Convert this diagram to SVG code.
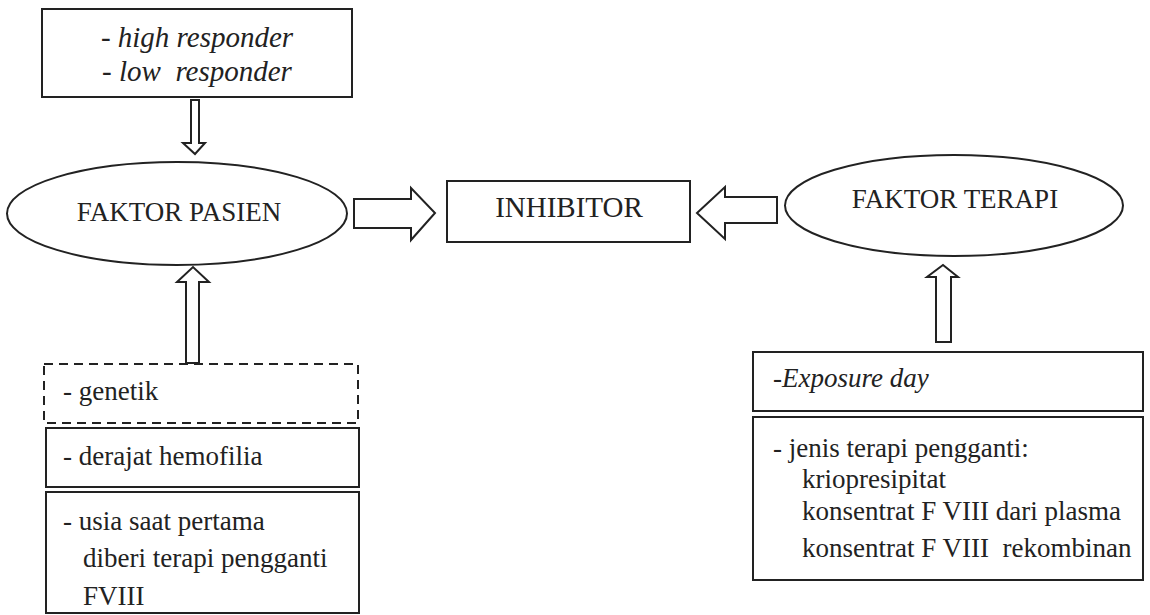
<svg xmlns="http://www.w3.org/2000/svg" width="1150" height="615" viewBox="0 0 1150 615">
<style>
.box{fill:#fff;stroke:#222;stroke-width:2}
.dash{fill:#fff;stroke:#222;stroke-width:2;stroke-dasharray:9,6}
.arr{fill:#fff;stroke:#222;stroke-width:2;stroke-linejoin:miter}
text{fill:#222;font-size:27px}
.it{font-style:italic}
.c{text-anchor:middle}
</style>
<rect width="1150" height="615" fill="#fff"/>
<g id="connectors">
<path class="arr" d="M191,100 L199,100 L199,143 L205,143 L195,154 L183,143 L191,143 Z"/>
<path class="arr" d="M354,199 L411,199 L411,188 L435,213 L411,240 L411,228 L354,228 Z"/>
<path class="arr" d="M777,197 L725,197 L725,187 L697,213 L725,239 L725,223 L777,223 Z"/>
<path class="arr" d="M186,363 L186,282 L177,282 L193,267 L209,282 L199,282 L199,363 Z"/>
<path class="arr" d="M936,342 L936,277 L927,277 L943,265 L958,277 L951,277 L951,342 Z"/>
</g>
<g font-family="Liberation Serif, Tinos, Times New Roman, DejaVu Serif, serif">
<g id="responder">
<rect class="box" x="42" y="9" width="310" height="88"/>
<text class="it c" x="197" y="47" style="font-size:29px">- high responder</text>
<text class="it c" x="197" y="81" style="font-size:29px" xml:space="preserve">- low  responder</text>
</g>
<g id="faktor-pasien">
<ellipse class="box" cx="177" cy="213.5" rx="170" ry="51.5"/>
<text class="c" x="179" y="221">FAKTOR PASIEN</text>
</g>
<g id="inhibitor">
<rect class="box" x="447" y="181" width="243" height="61"/>
<text class="c" x="569" y="217" style="font-size:29px">INHIBITOR</text>
</g>
<g id="faktor-terapi">
<ellipse class="box" cx="954" cy="205.5" rx="169" ry="50.5"/>
<text class="c" x="955" y="208">FAKTOR TERAPI</text>
</g>
<g id="genetik">
<rect class="dash" x="44" y="364" width="314" height="59"/>
<text x="63" y="400">- genetik</text>
</g>
<g id="derajat">
<rect class="box" x="46" y="428" width="313" height="59"/>
<text x="63" y="465">- derajat hemofilia</text>
</g>
<g id="usia">
<rect class="box" x="46" y="492" width="313" height="121"/>
<text x="63" y="530">- usia saat pertama</text>
<text x="83" y="567">diberi terapi pengganti</text>
<text x="83" y="605">FVIII</text>
</g>
<g id="exposure">
<rect class="box" x="753" y="352" width="390" height="59"/>
<text class="it" x="773" y="387">-Exposure day</text>
</g>
<g id="jenis-terapi">
<rect class="box" x="753" y="417" width="390" height="163"/>
<text x="773" y="457">- jenis terapi pengganti:</text>
<text x="802" y="488">kriopresipitat</text>
<text x="802" y="520">konsentrat F VIII dari plasma</text>
<text x="802" y="557" xml:space="preserve">konsentrat F VIII  rekombinan</text>
</g>
</g>
</svg>
